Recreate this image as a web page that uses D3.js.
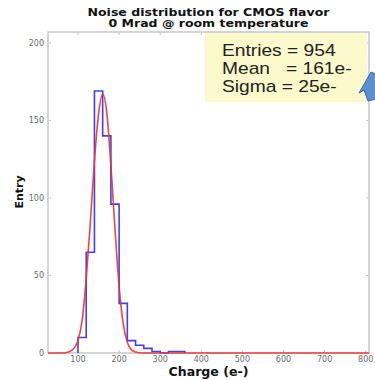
<!DOCTYPE html>
<html>
<head>
<meta charset="utf-8">
<script src="https://cdn.jsdelivr.net/npm/d3@7/dist/d3.min.js"></script>
<style>
html,body{margin:0;padding:0;background:#fff;}
svg{display:block;}
</style>
</head>
<body>
<svg id="chart" width="375" height="380"></svg>
<script>
// ---- data ----
const binEdges = [100,120,140,160,180,200,220,240,260,280,300,320,340,360];
const binCounts = [10,65,169,140,96,32,8,5,3,1,0,1,1];
const fitX = [27,60,80,90,100,110,120,130,140,150,160,170,180,190,200,210,220,230,240,250,260,808];
const fitY = [0,0,1,3,8,21,48,84,124,154,167,155,121,80,43,19,7,2,0.6,0.2,0,0];
const xTicks = [100,200,300,400,500,600,700,800];
const yTicks = [0,50,100,150,200];
const titleLines = ["Noise distribution for CMOS flavor","0 Mrad @ room temperature"];
const statsLines = ["Entries = 954","Mean   = 161e-","Sigma = 25e-"];
const xLabel = "Charge (e-)";
const yLabel = "Entry";

const svg = d3.select("#chart");
const L = 48, R = 369, T = 32, B = 353;
const x = d3.scaleLinear().domain([27,808]).range([L,R]);
const y = d3.scaleLinear().domain([0,207]).range([B,T]);

// frame
svg.append("rect").attr("x",L).attr("y",T).attr("width",R-L).attr("height",B-T)
  .attr("fill","none").attr("stroke","#b8b8b8").attr("stroke-width",1.2);

// ticks (inward, both sides)
const tg = svg.append("g").attr("stroke","#c8c8c8").attr("stroke-width",1);
xTicks.forEach(v=>{
  tg.append("line").attr("x1",x(v)).attr("x2",x(v)).attr("y1",B).attr("y2",B-3);
  tg.append("line").attr("x1",x(v)).attr("x2",x(v)).attr("y1",T).attr("y2",T+3);
});
yTicks.forEach(v=>{
  tg.append("line").attr("x1",L).attr("x2",L+3).attr("y1",y(v)).attr("y2",y(v));
  tg.append("line").attr("x1",R).attr("x2",R-3).attr("y1",y(v)).attr("y2",y(v));
});

// tick labels
const font = "DejaVu Sans, sans-serif";
svg.append("g").selectAll("text").data(xTicks).join("text")
  .attr("x",d=>x(d)).attr("y",362).attr("text-anchor","middle")
  .attr("font-family",font).attr("font-size",8).attr("fill","#6a6a6a").text(d=>d);
svg.append("g").selectAll("text").data(yTicks).join("text")
  .attr("x",44).attr("y",d=>y(d)+3).attr("text-anchor","end")
  .attr("font-family",font).attr("font-size",8).attr("fill","#6a6a6a").text(d=>d);

// histogram (step line)
const histPts = [[binEdges[0],0]];
binCounts.forEach((c,i)=>{ histPts.push([binEdges[i],c]); histPts.push([binEdges[i+1],c]); });
histPts.push([binEdges[binEdges.length-1],0]);
svg.append("path").datum(histPts)
  .attr("d", d3.line().x(d=>x(d[0])).y(d=>y(d[1])))
  .attr("fill","none").attr("stroke","#4040f2").attr("stroke-width",1.6);

// fit curve
svg.append("path").datum(fitX.map((v,i)=>[v,fitY[i]]))
  .attr("d", d3.line().x(d=>x(d[0])).y(d=>y(d[1])).curve(d3.curveMonotoneX))
  .attr("fill","none").attr("stroke","#f03030").attr("stroke-width",1.6).attr("stroke-opacity",0.9);

// titles
const titleW = [242, 200];
svg.append("g").selectAll("text").data(titleLines).join("text")
  .attr("x",(L+R)/2).attr("y",(d,i)=>15.5+i*11.5).attr("text-anchor","middle")
  .attr("textLength",(d,i)=>titleW[i]).attr("lengthAdjust","spacingAndGlyphs")
  .attr("font-family",font).attr("font-weight","bold").attr("font-size",10).attr("fill","#111").text(d=>d);

// axis labels
svg.append("text").attr("x",(L+R)/2).attr("y",376).attr("text-anchor","middle")
  .attr("textLength",80).attr("lengthAdjust","spacingAndGlyphs")
  .attr("font-family",font).attr("font-weight","bold").attr("font-size",11.5).attr("fill","#111").text(xLabel);
svg.append("text").attr("transform","translate(23,192) rotate(-90)").attr("text-anchor","middle")
  .attr("font-family",font).attr("font-weight","bold").attr("font-size",11).attr("fill","#111").text(yLabel);

// stats box
svg.append("rect").attr("x",205).attr("y",33).attr("width",162).attr("height",69)
  .attr("fill","#fcf9cc");
const sg = svg.append("g").attr("transform","translate(222,0) scale(1.2,1)");
sg.selectAll("text").data(statsLines).join("text")
  .attr("x",0).attr("y",(d,i)=>56+i*18)
  .attr("font-family","Liberation Sans, Arial, sans-serif").attr("font-size",16)
  .attr("fill","#222").style("white-space","pre").attr("xml:space","preserve").text(d=>d);

// blue arrow (partially visible at the right edge)
svg.append("path")
  .attr("d","M371,72 L359,93 L364,90 L368,101 L380,98 L380,76 Z")
  .attr("fill","#5b8fd2").attr("stroke","#3d6aa6").attr("stroke-width",1);
</script>
</body>
</html>
